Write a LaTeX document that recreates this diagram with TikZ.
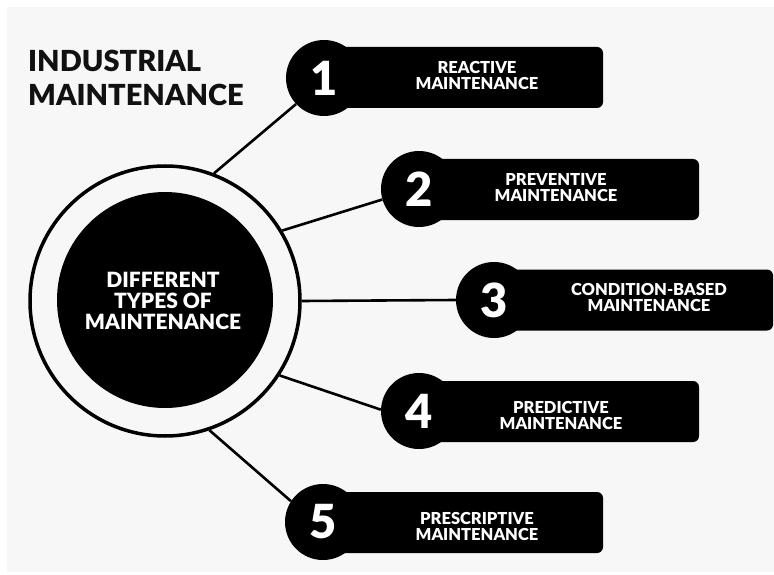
\documentclass[tikz,border=0pt]{standalone}
\usepackage{fontspec}
\setmainfont{Lato}[BoldFont={Lato Black}]
\definecolor{bggray}{HTML}{F7F7F7}
\definecolor{titleink}{HTML}{111111}
\begin{document}
\begin{tikzpicture}[x=1pt,y=-1pt,
  numcirc/.style={circle,fill=black,minimum size=76pt,inner sep=0pt,text=white,font=\fontsize{47}{47}\selectfont\bfseries},
  pillbox/.style={rectangle,fill=black,rounded corners=6pt,minimum height=61pt,inner sep=0pt},
  pilltext/.style={text=white,align=center,inner sep=0pt,font=\fontsize{16.5}{16}\selectfont\bfseries},
  conn/.style={line width=2.6pt,black}]
\useasboundingbox (0,0) rectangle (774,575);
\fill[white] (0,0) rectangle (774,575);
\fill[bggray] (7,7) rectangle (774,572);
% title
\node[anchor=west,align=left,inner sep=0pt,text=titleink,font=\fontsize{29}{34}\selectfont\bfseries] (title) at (28,78) {INDUSTRIAL\\MAINTENANCE};
% center
\node[circle,draw=black,line width=3.5pt,minimum size=270pt,inner sep=0pt] (ring) at (165,301) {};
\node[circle,fill=black,minimum size=216pt,inner sep=0pt] (core) at (165,300) {};
\node[text=white,align=center,inner sep=0pt,font=\fontsize{21}{21}\selectfont\bfseries] (coretext) at (163,300.5) {DIFFERENT\\TYPES OF\\MAINTENANCE};
% pills
\node[pillbox,minimum width=279pt] (b1) at (463.5,77.5) {};
\node[pillbox,minimum width=280pt] (b2) at (559,189.5) {};
\node[pillbox,minimum width=279pt] (b3) at (633.5,300) {};
\node[pillbox,minimum width=280pt] (b4) at (559,411.5) {};
\node[pillbox,minimum width=280pt] (b5) at (463,522.5) {};
\node[numcirc] (n1) at (324,78) {1};
\node[numcirc] (n2) at (419,189) {2};
\node[numcirc] (n3) at (494,300) {3};
\node[numcirc] (n4) at (419,411) {4};
\node[numcirc] (n5) at (323,522) {5};
\node[pilltext] (t1) at (477,75.5) {REACTIVE\\MAINTENANCE};
\node[pilltext] (t2) at (556,187.5) {PREVENTIVE\\MAINTENANCE};
\node[pilltext] (t3) at (649,297.5) {CONDITION-BASED\\MAINTENANCE};
\node[pilltext] (t4) at (561,415) {PREDICTIVE\\MAINTENANCE};
\node[pilltext] (t5) at (477,526.5) {PRESCRIPTIVE\\MAINTENANCE};
% connectors
\draw[conn] (ring.69.6) -- (n1.223);
\draw[conn] (ring.31.4) -- (n2.196);
\draw[conn] (ring.0) -- (n3.180);
\draw[conn] (ring.-33) -- (n4.178);
\draw[conn] (ring.-71) -- (n5.147);
\end{tikzpicture}
\end{document}
